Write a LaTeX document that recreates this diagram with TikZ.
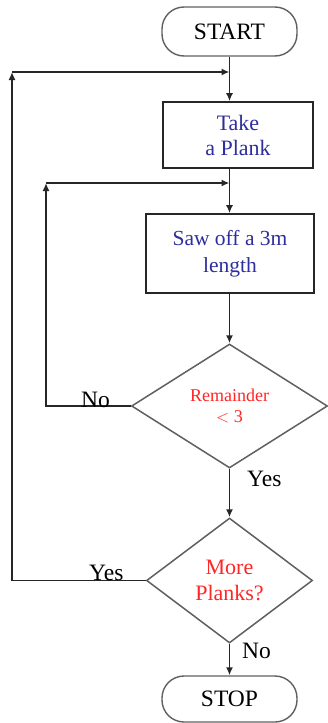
\documentclass[tikz,border=0pt]{standalone}
\usepackage{fontspec}
\setmainfont{Liberation Serif}
\usetikzlibrary{arrows.meta,shapes.geometric}
\definecolor{boxblue}{HTML}{2E2E9E}
\definecolor{decred}{HTML}{FF2626}
\definecolor{edgegray}{HTML}{606060}
\begin{document}
\begin{tikzpicture}[x=1pt,y=-1pt,
  line/.style={draw=black!85,line width=1.6pt},
  arr/.style={line,-{Latex[length=8pt,width=7pt]}},
  term/.style={draw=edgegray,line width=1.4pt,rounded corners=22pt,minimum width=135pt,inner sep=0pt,font=\fontsize{23.5}{25}\selectfont},
  procbox/.style={draw=black!85,line width=1.6pt,inner sep=0pt,align=center,text=boxblue},
  decision/.style={draw=edgegray,line width=1.5pt,diamond,inner sep=0pt,align=center,text=decred},
  lbl/.style={inner sep=0pt,anchor=base west,font=\fontsize{23.5}{23}\selectfont}]
\useasboundingbox[fill=white] (0,0) rectangle (327,723);
\node[term,minimum height=49pt] (start) at (229.5,31.5) {START};
\node[procbox,minimum width=150pt,minimum height=66pt,font=\fontsize{22}{25}\selectfont] (take) at (238,135) {Take\\a Plank};
\node[procbox,minimum width=168pt,minimum height=79pt,font=\fontsize{21.5}{27}\selectfont] (saw) at (230,253.5) {Saw off a 3m\\length};
\node[decision,minimum width=196pt,minimum height=124pt,font=\fontsize{18}{21}\selectfont] (d1) at (229.5,406) {Remainder\\$<$ 3};
\node[decision,minimum width=166pt,minimum height=125pt,font=\fontsize{22}{26}\selectfont] (d2) at (229.5,580.5) {More\\Planks?};
\node[term,minimum height=46pt] (stop) at (229.5,699) {STOP};
\coordinate (j1) at (229.5,72);
\coordinate (c1) at (12,72);
\coordinate (j2) at (229.5,183);
\coordinate (c2) at (46,183);
% main flow
\draw[arr] (start.south) -- (start.south |- take.north);
\draw[arr] (take.south -| start.south) -- (start.south |- saw.north);
\draw[arr] (saw.south -| start.south) -- (d1.north);
\draw[arr] (d1.south) -- (d2.north);
\draw[arr] (d2.south) -- (stop.north);
% loops
\draw[arr] (d2.west) -| (c1);
\draw[arr] (c1) -- (j1);
\draw[arr] (d1.west) -| (c2);
\draw[arr] (c2) -- (j2);
% labels
\node[lbl] (lno1) at (81,407) {No};
\node[lbl] (lyes1) at (247,486) {Yes};
\node[lbl] (lyes2) at (89,580) {Yes};
\node[lbl] (lno2) at (242,658) {No};
\end{tikzpicture}
\end{document}
